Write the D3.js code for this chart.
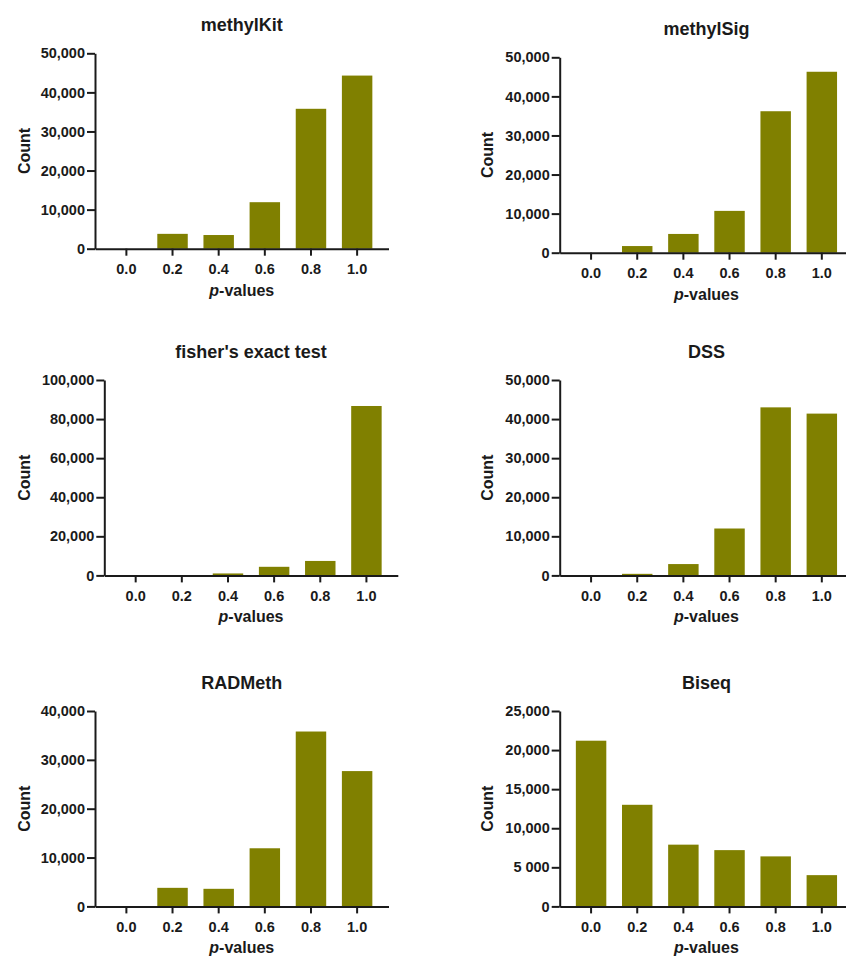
<!DOCTYPE html>
<html>
<head>
<meta charset="utf-8">
<script src="https://cdn.jsdelivr.net/npm/d3@7"></script>
<style>
  body { margin: 0; background: #fff; }
  text { font-family: "Liberation Sans", Arial, sans-serif; font-weight: bold; fill: #1a1a1a; }
</style>
</head>
<body>
<div id="chart"></div>
<script>
(function() {
    // p-value bins (x categories)
    const categories = ["0.0", "0.2", "0.4", "0.6", "0.8", "1.0"];

    const titles = ["methylKit", "methylSig", "fisher's exact test", "DSS", "RADMeth", "Biseq"];

    // counts per bin
    const methylKitCounts = [0, 3800, 3500, 11900, 35800, 44300];
    const methylSigCounts = [0, 1700, 4800, 10700, 36200, 46300];
    const fisherCounts    = [0, 0, 1000, 4400, 7400, 86700];
    const dssCounts       = [0, 400, 2900, 12000, 43000, 41400];
    const radmethCounts   = [0, 3800, 3600, 11900, 35800, 27700];
    const biseqCounts     = [21200, 13000, 7900, 7200, 6400, 4000];

    // y ticks and their labels
    const ticks50k  = [0, 10000, 20000, 30000, 40000, 50000];
    const labels50k = ["0", "10,000", "20,000", "30,000", "40,000", "50,000"];
    const ticks100k  = [0, 20000, 40000, 60000, 80000, 100000];
    const labels100k = ["0", "20,000", "40,000", "60,000", "80,000", "100,000"];
    const ticks40k  = [0, 10000, 20000, 30000, 40000];
    const labels40k = ["0", "10,000", "20,000", "30,000", "40,000"];
    const ticks25k  = [0, 5000, 10000, 15000, 20000, 25000];
    const labels25k = ["0", "5 000", "10,000", "15,000", "20,000", "25,000"];

    const panels = [
        { title: titles[0], values: methylKitCounts, ticks: ticks50k,  labels: labels50k },
        { title: titles[1], values: methylSigCounts, ticks: ticks50k,  labels: labels50k },
        { title: titles[2], values: fisherCounts,    ticks: ticks100k, labels: labels100k },
        { title: titles[3], values: dssCounts,       ticks: ticks50k,  labels: labels50k },
        { title: titles[4], values: radmethCounts,   ticks: ticks40k,  labels: labels40k },
        { title: titles[5], values: biseqCounts,     ticks: ticks25k,  labels: labels25k }
    ];

    // panel placement (axis origin top-left) and y-label column
    const layout = [
        { x: 95,    y: 53.3, countX: 30 },
        { x: 559.7, y: 57.3, countX: 493 },
        { x: 104.3, y: 380,  countX: 30 },
        { x: 559.7, y: 380,  countX: 493 },
        { x: 95,    y: 711,  countX: 30 },
        { x: 559.7, y: 711,  countX: 493 }
    ];

    const plotW = 293.5;
    const plotH = 195.4;
    const barColor = "#808000";
    const ink = "#1a1a1a";

    const svg = d3.select("#chart")
        .append("svg")
        .attr("width", 846)
        .attr("height", 958);

    panels.forEach(function(p, i) {
        const L = layout[i];
        const g = svg.append("g")
            .attr("transform", `translate(${L.x}, ${L.y})`);

        const xScale = d3.scaleBand()
            .domain(categories)
            .range([0, plotW])
            .paddingInner(0.34)
            .paddingOuter(0.35);

        const yScale = d3.scaleLinear()
            .domain([0, d3.max(p.ticks)])
            .range([plotH, 0]);

        g.selectAll("rect")
            .data(p.values)
            .enter()
            .append("rect")
            .attr("x", (d, j) => xScale(categories[j]))
            .attr("y", d => yScale(d))
            .attr("width", xScale.bandwidth())
            .attr("height", d => plotH - yScale(d))
            .attr("fill", barColor);

        const xAxis = g.append("g")
            .attr("transform", `translate(0, ${plotH})`)
            .call(d3.axisBottom(xScale).tickSize(7).tickPadding(8).tickSizeOuter(0));

        const yAxis = g.append("g")
            .call(d3.axisLeft(yScale)
                .tickValues(p.ticks)
                .tickFormat((d, j) => p.labels[j])
                .tickSize(8)
                .tickPadding(2)
                .tickSizeOuter(0));

        [xAxis, yAxis].forEach(function(a) {
            a.attr("font-family", null).attr("font-size", null);
            a.selectAll("path, line").attr("stroke", ink).attr("stroke-width", 2);
            a.selectAll("text").style("font-size", "14.5px").attr("fill", ink);
        });

        g.append("text")
            .attr("x", plotW / 2)
            .attr("y", -22)
            .attr("text-anchor", "middle")
            .style("font-size", "18px")
            .text(p.title);

        const xl = g.append("text")
            .attr("x", plotW / 2)
            .attr("y", plotH + 47)
            .attr("text-anchor", "middle")
            .style("font-size", "16px");
        xl.append("tspan").style("font-style", "italic").text("p");
        xl.append("tspan").text("-values");

        g.append("text")
            .attr("transform", `translate(${L.countX - L.x}, ${plotH / 2}) rotate(-90)`)
            .attr("text-anchor", "middle")
            .style("font-size", "16px")
            .text("Count");
    });
})();
</script>
</body>
</html>
